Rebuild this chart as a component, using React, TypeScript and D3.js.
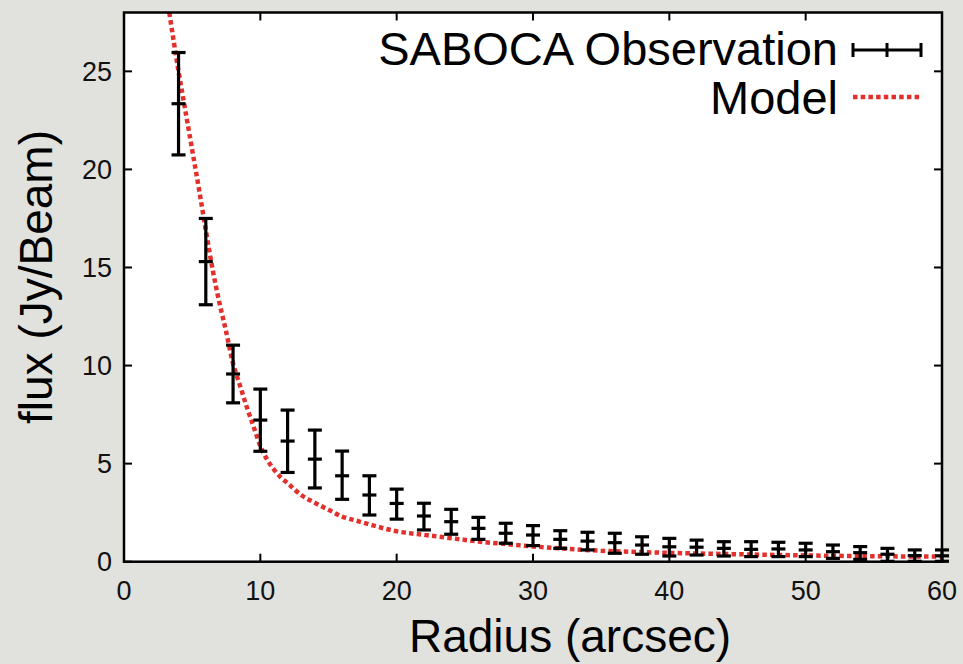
import React from "react";
import * as d3 from "d3";

const obsX = [4, 6, 8, 10, 12, 14, 16, 18, 20, 22, 24, 26, 28, 30, 32, 34, 36, 38, 40, 42, 44, 46, 48, 50, 52, 54, 56, 58, 60];
const obsY = [23.35, 15.3, 9.57, 7.22, 6.15, 5.23, 4.38, 3.4, 2.97, 2.33, 2.04, 1.7, 1.45, 1.36, 1.14, 1.05, 0.97, 0.85, 0.76, 0.74, 0.68, 0.63, 0.65, 0.6, 0.51, 0.46, 0.38, 0.31, 0.3];
const obsHigh = [25.96, 17.5, 11.04, 8.8, 7.73, 6.71, 5.64, 4.38, 3.7, 2.98, 2.67, 2.26, 1.96, 1.84, 1.58, 1.5, 1.45, 1.27, 1.19, 1.1, 1.02, 1.02, 0.99, 0.94, 0.85, 0.77, 0.68, 0.6, 0.6];
const obsLow = [20.74, 13.1, 8.1, 5.63, 4.55, 3.76, 3.18, 2.38, 2.17, 1.62, 1.4, 1.14, 0.94, 0.82, 0.68, 0.6, 0.43, 0.38, 0.29, 0.34, 0.29, 0.26, 0.26, 0.26, 0.17, 0.12, 0.02, 0.02, 0.02];

const modelX = [3.32, 4, 4.5, 5, 5.5, 6, 6.5, 7, 7.5, 8, 8.5, 9, 9.5, 10, 10.5, 11, 11.5, 12, 13, 14, 15, 16, 17, 18, 20, 22, 24, 26, 28, 30, 32, 35, 40, 45, 50, 55, 60];
const modelY = [28, 25.0, 23.0, 21.0, 19.0, 16.9, 14.9, 13.2, 11.7, 10.1, 9.0, 7.9, 6.9, 5.9, 5.2, 4.7, 4.3, 4.0, 3.4, 3.0, 2.65, 2.3, 2.1, 1.9, 1.55, 1.37, 1.2, 1.03, 0.9, 0.78, 0.68, 0.56, 0.45, 0.38, 0.32, 0.28, 0.26];

const xTicks = [0, 10, 20, 30, 40, 50, 60];
const yTicks = [0, 5, 10, 15, 20, 25];

const legendLabels = ["SABOCA Observation", "Model"];
const xTitle = "Radius (arcsec)";
const yTitle = "flux (Jy/Beam)";

const W = 963;
const H = 664;
const L = 124, R = 942, T = 12.5, B = 561.7;
const FONT = "'Liberation Sans', Arial, Helvetica, sans-serif";
const RED = "#e2302c";

export default function App() {
  const x = d3.scaleLinear().domain([0, 60]).range([L, R]);
  const y = d3.scaleLinear().domain([0, 28]).range([B, T]);
  const line = d3
    .line<number>()
    .x((_, i) => x(modelX[i]))
    .y((d) => y(d))
    .curve(d3.curveMonotoneX);
  const modelPath = line(modelY) || "";
  const tickLen = 8;
  const cap = 7;

  return (
    <svg width={W} height={H} style={{ position: "absolute", left: 0, top: 0 }} fontFamily={FONT}>
      <defs>
        <clipPath id="plotclip">
          <rect x={L} y={T} width={R - L} height={B - T} />
        </clipPath>
      </defs>
      <rect x={0} y={0} width={W} height={H} fill="#e1e1dd" />
      <rect x={L} y={T} width={R - L} height={B - T} fill="#ffffff" />

      {/* ticks */}
      {xTicks.map((t) => (
        <g key={"xt" + t}>
          <line x1={x(t)} x2={x(t)} y1={B} y2={B - tickLen} stroke="#000" strokeWidth={2} />
          <line x1={x(t)} x2={x(t)} y1={T} y2={T + tickLen} stroke="#000" strokeWidth={2} />
          <text x={x(t)} y={B + 38} fontSize={27} textAnchor="middle" fill="#111">{t}</text>
        </g>
      ))}
      {yTicks.map((t) => (
        <g key={"yt" + t}>
          <line x1={L} x2={L + tickLen} y1={y(t)} y2={y(t)} stroke="#000" strokeWidth={2} />
          <line x1={R} x2={R - tickLen} y1={y(t)} y2={y(t)} stroke="#000" strokeWidth={2} />
          <text x={112} y={y(t)} dy="0.35em" fontSize={27} textAnchor="end" fill="#111">{t}</text>
        </g>
      ))}

      {/* model */}
      <g clipPath="url(#plotclip)">
        <path d={modelPath} fill="none" stroke={RED} strokeWidth={4.5} strokeDasharray="4.5,3.2" />
      </g>

      {/* observations */}
      {obsX.map((xv, i) => {
        const cx = x(xv);
        return (
          <g key={"o" + xv} stroke="#000" strokeWidth={3.2}>
            <line x1={cx} x2={cx} y1={y(obsLow[i])} y2={y(obsHigh[i])} />
            <line x1={cx - cap} x2={cx + cap} y1={y(obsLow[i])} y2={y(obsLow[i])} />
            <line x1={cx - cap} x2={cx + cap} y1={y(obsHigh[i])} y2={y(obsHigh[i])} />
            <line x1={cx - cap} x2={cx + cap} y1={y(obsY[i])} y2={y(obsY[i])} />
          </g>
        );
      })}

      {/* frame */}
      <rect x={L} y={T} width={R - L} height={B - T} fill="none" stroke="#000" strokeWidth={2.5} />

      {/* legend */}
      <text x={838} y={48} dy="0.36em" fontSize={47} textAnchor="end" fill="#000">{legendLabels[0]}</text>
      <g stroke="#000" strokeWidth={3}>
        <line x1={853} x2={921} y1={50} y2={50} />
        <line x1={853} x2={853} y1={43} y2={57} />
        <line x1={921} x2={921} y1={43} y2={57} />
        <line x1={887} x2={887} y1={43} y2={57} />
      </g>
      <text x={838} y={97} dy="0.36em" fontSize={47} textAnchor="end" fill="#000">{legendLabels[1]}</text>
      <line x1={853} x2={921} y1={97} y2={97} stroke={RED} strokeWidth={4.5} strokeDasharray="4.5,3.2" />

      {/* titles */}
      <text x={570} y={652} fontSize={46} textAnchor="middle" fill="#000">{xTitle}</text>
      <text transform={`translate(52,277) rotate(-90)`} fontSize={46} textAnchor="middle" fill="#000">{yTitle}</text>
    </svg>
  );
}
